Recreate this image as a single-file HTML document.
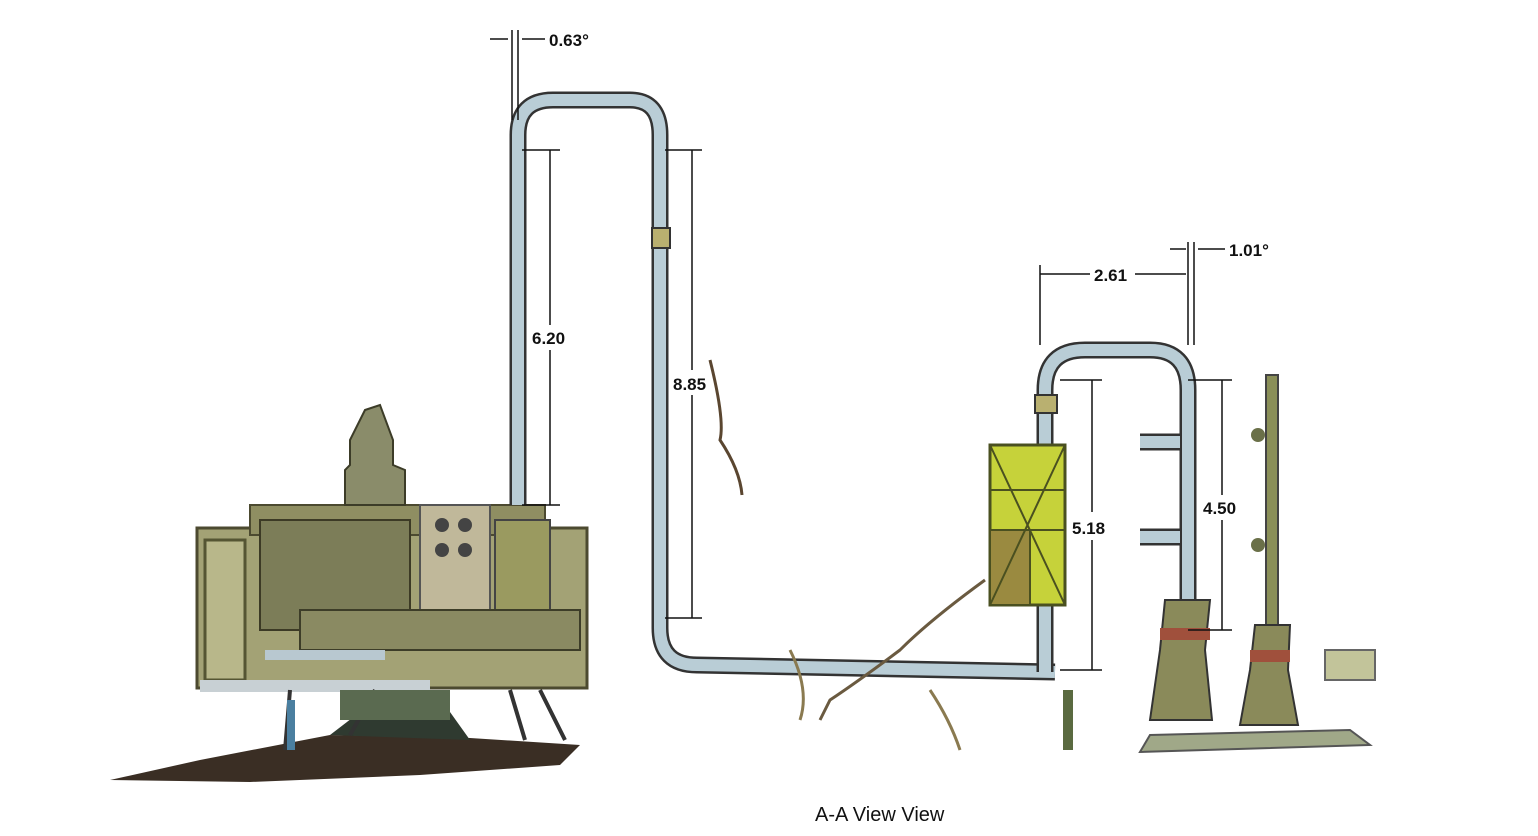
<!DOCTYPE html>
<html><head><meta charset="utf-8"><style>
html,body{margin:0;padding:0;background:#fff;}
svg{display:block;}
text{font-family:"Liberation Sans",sans-serif;font-weight:bold;font-size:17px;fill:#111;}
</style></head><body>
<svg width="1538" height="836" viewBox="0 0 1538 836" xmlns="http://www.w3.org/2000/svg">
<!-- ground shadow left -->
<path d="M110 780 L200 760 L330 735 L470 738 L580 745 L560 765 L420 775 L250 782 Z" fill="#3a2e24"/>
<path d="M330 735 L360 712 L450 712 L470 740 Z" fill="#2f3a30"/>
<!-- left machine -->
<rect x="197" y="528" width="390" height="160" fill="#a3a275" stroke="#4c4a30" stroke-width="3"/>
<rect x="250" y="505" width="295" height="30" fill="#8f8e62" stroke="#4c4a30" stroke-width="2"/>
<rect x="205" y="540" width="40" height="140" fill="#b8b78a" stroke="#555533" stroke-width="3"/>
<rect x="260" y="520" width="150" height="110" fill="#7c7d58" stroke="#3c3a25" stroke-width="2"/>
<rect x="420" y="505" width="70" height="110" fill="#c0b89a" stroke="#555" stroke-width="2"/>
<circle cx="442" cy="525" r="7" fill="#444"/><circle cx="465" cy="525" r="7" fill="#444"/>
<circle cx="442" cy="550" r="7" fill="#444"/><circle cx="465" cy="550" r="7" fill="#444"/>
<rect x="495" y="520" width="55" height="90" fill="#9a9a60" stroke="#444" stroke-width="2"/>
<rect x="300" y="610" width="280" height="40" fill="#8a8a62" stroke="#3d3d28" stroke-width="2"/>
<rect x="200" y="680" width="230" height="12" fill="#c8d0d4"/>
<rect x="265" y="650" width="120" height="10" fill="#b8c8d0"/>
<path d="M350 465 L350 440 L365 410 L380 405 L393 440 L393 465 L405 470 L405 505 L345 505 L345 470 Z" fill="#8a8c6a" stroke="#3c3c28" stroke-width="2"/>
<path d="M290 690 L285 750 M510 690 L525 740 M540 690 L565 740 M375 690 L350 735" stroke="#333" stroke-width="4"/>
<rect x="287" y="700" width="8" height="50" fill="#4a7fa0"/>
<rect x="340" y="690" width="110" height="30" fill="#5a6a50"/>
<!-- left pipe -->
<g fill="none" stroke-linecap="butt">
<path d="M518 505 L518 135 Q518 100 553 100 L630 100 Q660 100 660 135 L660 628 Q660 665 697 665 L1055 672" stroke="#333" stroke-width="17"/>
<path d="M518 505 L518 135 Q518 100 553 100 L630 100 Q660 100 660 135 L660 628 Q660 665 697 665 L1055 672" stroke="#b9cdd6" stroke-width="12"/>
<!-- right pipe -->
<path d="M1045 672 L1045 390 Q1045 350 1085 350 L1150 350 Q1188 350 1188 390 L1188 605" stroke="#333" stroke-width="17"/>
<path d="M1045 672 L1045 390 Q1045 350 1085 350 L1150 350 Q1188 350 1188 390 L1188 605" stroke="#b9cdd6" stroke-width="12"/>
<path d="M1140 442 L1180 442 M1140 537 L1180 537" stroke="#333" stroke-width="17"/>
<path d="M1140 442 L1180 442 M1140 537 L1180 537" stroke="#b9cdd6" stroke-width="12"/>
</g>
<rect x="652" y="228" width="18" height="20" fill="#b9b070" stroke="#333" stroke-width="2"/>
<rect x="1035" y="395" width="22" height="18" fill="#b9b070" stroke="#333" stroke-width="2"/>
<!-- hose wiggles -->
<path d="M710 360 Q725 420 720 440 Q740 470 742 495" stroke="#5a4630" stroke-width="3" fill="none"/>
<path d="M985 580 Q930 620 900 650 Q860 680 830 700 L820 720" stroke="#6a5a40" stroke-width="3" fill="none"/>
<path d="M790 650 Q810 690 800 720 M930 690 Q950 720 960 750" stroke="#8a7a50" stroke-width="3" fill="none"/>
<!-- yellow frame -->
<rect x="990" y="445" width="75" height="160" fill="#c6d23a" stroke="#4a5020" stroke-width="3"/>
<rect x="990" y="530" width="40" height="75" fill="#9a8a40" stroke="#4a5020" stroke-width="2"/>
<path d="M990 445 L1065 605 M1065 445 L990 605 M990 490 L1065 490 M990 530 L1065 530" stroke="#4a5020" stroke-width="2"/>
<!-- right towers -->
<path d="M1165 600 L1210 600 L1205 650 L1212 720 L1150 720 L1160 650 Z" fill="#8a8a5a" stroke="#333" stroke-width="2"/>
<rect x="1160" y="628" width="50" height="12" fill="#a0503c"/>
<rect x="1266" y="375" width="12" height="250" fill="#8a8f58" stroke="#444" stroke-width="2"/>
<circle cx="1258" cy="435" r="7" fill="#6a7048"/><circle cx="1258" cy="545" r="7" fill="#6a7048"/>
<path d="M1255 625 L1290 625 L1288 670 L1298 725 L1240 725 L1250 670 Z" fill="#8a8a5a" stroke="#333" stroke-width="2"/>
<rect x="1250" y="650" width="40" height="12" fill="#a0503c"/>
<path d="M1150 735 L1350 730 L1370 745 L1140 752 Z" fill="#a0a888" stroke="#555" stroke-width="2"/>
<rect x="1325" y="650" width="50" height="30" fill="#c2c49a" stroke="#666" stroke-width="2"/>
<rect x="1063" y="690" width="10" height="60" fill="#5a6a40"/>
<!-- dimension lines -->
<g stroke="#111" stroke-width="1.5" fill="none">
<path d="M512 30 L512 120 M518 30 L518 120 M490 39 L508 39 M522 39 L545 39"/>
<path d="M522 150 L560 150 M522 505 L560 505 M550 150 L550 325 M550 350 L550 505"/>
<path d="M665 150 L702 150 M665 618 L702 618 M692 150 L692 370 M692 395 L692 618"/>
<path d="M1040 265 L1040 345 M1188 242 L1188 345 M1194 242 L1194 345 M1040 274 L1090 274 M1135 274 L1186 274 M1170 249 L1186 249 M1198 249 L1225 249"/>
<path d="M1060 380 L1102 380 M1060 670 L1102 670 M1092 380 L1092 512 M1092 540 L1092 670"/>
<path d="M1188 380 L1232 380 M1188 630 L1232 630 M1222 380 L1222 495 M1222 520 L1222 630"/>
</g>
<text x="549" y="46">0.63°</text>
<text x="532" y="344">6.20</text>
<text x="673" y="390">8.85</text>
<text x="1094" y="281">2.61</text>
<text x="1229" y="256">1.01°</text>
<text x="1072" y="534">5.18</text>
<text x="1203" y="514">4.50</text>
<text x="815" y="821" style="font-weight:normal;font-size:20px">A-A View View</text>
</svg>
</body></html>
